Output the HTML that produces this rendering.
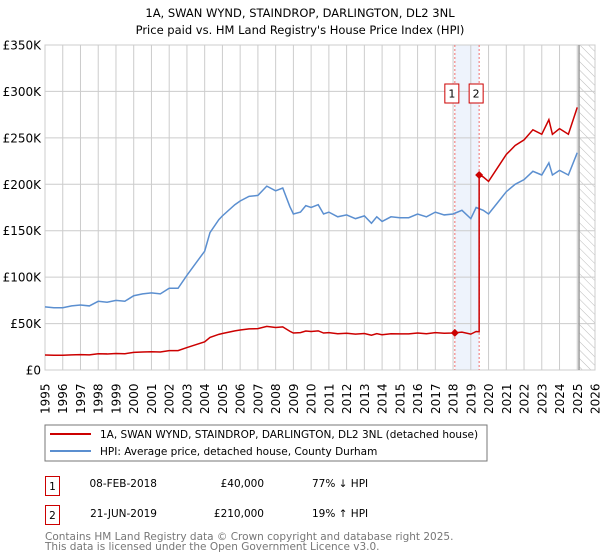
<!DOCTYPE html>
<html><head><meta charset="utf-8"><style>
body{margin:0;background:#fff;font-family:"DejaVu Sans","Liberation Sans",sans-serif;}
svg{display:block}
</style></head><body>
<svg id="chart" width="600" height="560" xmlns="http://www.w3.org/2000/svg" font-family="DejaVu Sans, Liberation Sans, sans-serif">
<text x="300" y="17" text-anchor="middle" font-size="11.5" fill="#000">1A, SWAN WYND, STAINDROP, DARLINGTON, DL2 3NL</text>
<text x="300" y="34" text-anchor="middle" font-size="11.5" fill="#000">Price paid vs. HM Land Registry's House Price Index (HPI)</text>
<g id="grid"></g>
<g id="marks"></g>
<g id="axes"></g>
<rect x="45" y="425" width="442" height="36" fill="#fff" stroke="#777"/>
<line x1="50" y1="434" x2="91" y2="434" stroke="#cc0000" stroke-width="2"/>
<text x="100" y="438" font-size="10.5">1A, SWAN WYND, STAINDROP, DARLINGTON, DL2 3NL (detached house)</text>
<line x1="50" y1="451" x2="91" y2="451" stroke="#5b8fd0" stroke-width="2"/>
<text x="100" y="455" font-size="10.5">HPI: Average price, detached house, County Durham</text>
<g>
<rect x="45.5" y="476.5" width="14" height="19" fill="#fff" stroke="#cc0000"/>
<text x="52.5" y="490" font-size="10.5" text-anchor="middle">1</text>
<text x="157" y="487" font-size="10.5" text-anchor="end">08-FEB-2018</text>
<text x="264" y="487" font-size="10.5" text-anchor="end">£40,000</text>
<text x="312" y="487" font-size="10.5">77% ↓ HPI</text>
</g>
<g>
<rect x="45.5" y="505.5" width="14" height="19" fill="#fff" stroke="#cc0000"/>
<text x="52.5" y="519" font-size="10.5" text-anchor="middle">2</text>
<text x="157" y="517" font-size="10.5" text-anchor="end">21-JUN-2019</text>
<text x="264" y="517" font-size="10.5" text-anchor="end">£210,000</text>
<text x="312" y="517" font-size="10.5">19% ↑ HPI</text>
</g>
<text x="45" y="540" font-size="10.5" fill="#777">Contains HM Land Registry data © Crown copyright and database right 2025.</text>
<text x="45" y="550" font-size="10.5" fill="#777">This data is licensed under the Open Government Licence v3.0.</text>
</svg>
<script>
const hpiYears=[1995,1995.5,1996,1996.5,1997,1997.5,1998,1998.5,1999,1999.5,2000,2000.5,2001,2001.5,2002,2002.5,2003,2003.5,2004,2004.3,2004.8,2005,2005.7,2006,2006.5,2007,2007.5,2008,2008.4,2008.8,2009,2009.4,2009.7,2010,2010.4,2010.7,2011,2011.5,2012,2012.5,2013,2013.4,2013.7,2014,2014.5,2015,2015.5,2016,2016.5,2017,2017.5,2018,2018.5,2019,2019.3,2019.7,2020,2020.5,2021,2021.5,2022,2022.5,2023,2023.4,2023.6,2024,2024.5,2025];
const hpiValues=[68,67,67,69,70,69,74,73,75,74,80,82,83,82,88,88,102,115,128,148,162,166,178,182,187,188,198,193,196,176,168,170,177,175,178,168,170,165,167,163,166,158,165,160,165,164,164,168,165,170,167,168,172,163,175,172,168,180,192,200,205,214,210,223,210,215,210,234];
const saleYears=[2018.1,2019.47];
const salePrices=[40,210];
const saleLabels=["1","2"];
const yTicks=[0,50,100,150,200,250,300,350];
const yTickLabels=["£0","£50K","£100K","£150K","£200K","£250K","£300K","£350K"];
const xTicks=[1995,1996,1997,1998,1999,2000,2001,2002,2003,2004,2005,2006,2007,2008,2009,2010,2011,2012,2013,2014,2015,2016,2017,2018,2019,2020,2021,2022,2023,2024,2025,2026];

const NS="http://www.w3.org/2000/svg";
const X0=45,X1=595,Y0=370,Y1=45,YR0=1995,YR1=2026,VMAX=350;
const xs=y=>X0+(y-YR0)/(YR1-YR0)*(X1-X0);
const ys=v=>Y0-v/VMAX*(Y0-Y1);
function mk(tag,attrs,parent){const e=document.createElementNS(NS,tag);for(const k in attrs)e.setAttribute(k,attrs[k]);parent.appendChild(e);return e;}
const grid=document.getElementById('grid'),marks=document.getElementById('marks'),axes=document.getElementById('axes');
mk('rect',{x:X0,y:Y1,width:X1-X0,height:Y0-Y1,fill:'#fff',stroke:'#ccc'},grid);
const defs=mk('defs',{},grid);
const pat=mk('pattern',{id:'hatch',width:6,height:6,patternUnits:'userSpaceOnUse',patternTransform:'rotate(-45)'},defs);
mk('line',{x1:0,y1:0,x2:0,y2:6,stroke:'#bbb','stroke-width':1},pat);
const hx=xs(2025.1);
const hatch=mk('rect',{x:hx,y:Y1,width:X1-hx,height:Y0-Y1,fill:'url(#hatch)'},grid);


const band=mk('rect',{x:xs(saleYears[0]),y:Y1,width:xs(saleYears[1])-xs(saleYears[0]),height:Y0-Y1,fill:'#eef3fc'},grid);


xTicks.forEach(t=>{mk('line',{x1:xs(t),y1:Y1,x2:xs(t),y2:Y0,stroke:'#ccc'},grid);});
yTicks.forEach(t=>{mk('line',{x1:X0,y1:ys(t),x2:X1,y2:ys(t),stroke:'#ccc'},grid);});
mk('line',{x1:hx,y1:Y1,x2:hx,y2:Y0,stroke:'#999','stroke-width':1.5},grid);
saleYears.forEach(s=>{mk('line',{x1:xs(s),y1:Y1,x2:xs(s),y2:Y0,stroke:'#f07070','stroke-dasharray':'2,2'},grid);});
const hp=mk('polyline',{points:hpiYears.map((y,i)=>xs(y)+','+ys(hpiValues[i])).join(' '),fill:'none',stroke:'#5b8fd0','stroke-width':1.5},marks);


function hpiAt(t){for(let i=1;i<hpiYears.length;i++){if(t<=hpiYears[i]){const f=(t-hpiYears[i-1])/(hpiYears[i]-hpiYears[i-1]);return hpiValues[i-1]+f*(hpiValues[i]-hpiValues[i-1]);}}return hpiValues[hpiValues.length-1];}
const pts=[];
const f1=salePrices[0]/hpiAt(saleYears[0]),f2=salePrices[1]/hpiAt(saleYears[1]);
hpiYears.forEach((y,i)=>{if(y<saleYears[1]){pts.push([y,hpiValues[i]*f1]);}});
pts.push([saleYears[1],hpiAt(saleYears[1])*f1]);
pts.push([saleYears[1],salePrices[1]]);
hpiYears.forEach((y,i)=>{if(y>saleYears[1])pts.push([y,hpiValues[i]*f2]);});
const pl=mk('polyline',{points:pts.map(p=>xs(p[0])+','+ys(p[1])).join(' '),fill:'none',stroke:'#cc0000','stroke-width':1.5},marks);


saleYears.forEach((s,i)=>{
  const cx=xs(s),cy=ys(salePrices[i]);
  const d=mk('polygon',{points:`${cx},${cy-4} ${cx+4},${cy} ${cx},${cy+4} ${cx-4},${cy}`,fill:'#cc0000'},marks);
  
  
  const g=mk('g',{},marks);
  
  
  const bx=cx-10;
  mk('rect',{x:bx,y:84,width:14,height:19,fill:'#fff',stroke:'#cc0000'},g);
  const t=mk('text',{x:bx+7,y:97.5,'font-size':11,'text-anchor':'middle'},g);t.textContent=saleLabels[i];
});
yTicks.forEach((t,i)=>{const e=mk('text',{x:X0-4,y:ys(t)+4.5,'font-size':12,'text-anchor':'end'},axes);e.textContent=yTickLabels[i];
  
  });
xTicks.forEach(t=>{const e=mk('text',{x:0,y:0,'font-size':12,transform:`translate(${xs(t)+4.5},414) rotate(-90)`},axes);e.textContent=t;
  
  });
</script>
</body></html>
